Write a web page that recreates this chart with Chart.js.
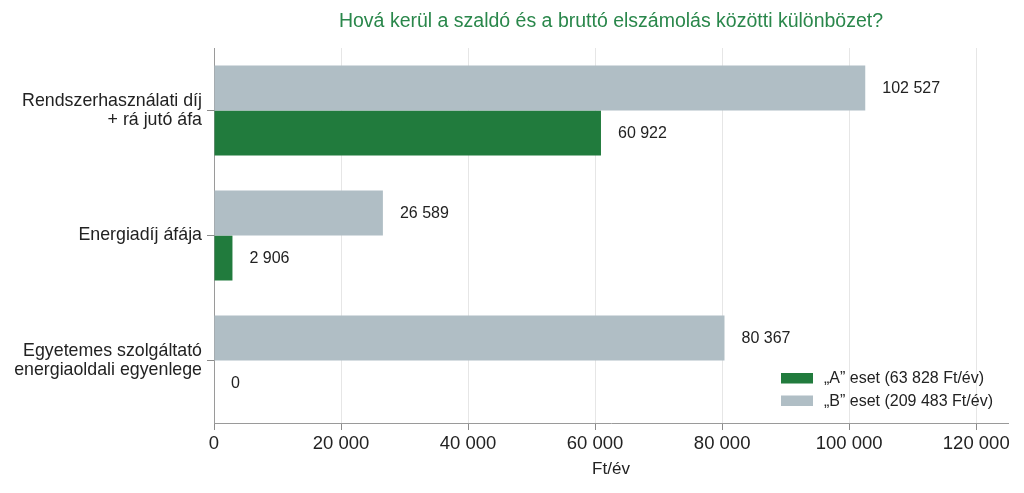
<!DOCTYPE html>
<html>
<head>
<meta charset="utf-8">
<script src="https://cdn.jsdelivr.net/npm/chart.js@4.4.1/dist/chart.umd.min.js"></script>
<style>
  html, body { margin: 0; padding: 0; background: #fff; }
  #wrap { width: 1024px; height: 493px; }
</style>
</head>
<body>
<div id="wrap"><canvas id="c" width="1024" height="493"></canvas></div>
<script>
const titleText = "Hová kerül a szaldó és a bruttó elszámolás közötti különbözet?";
const categories = [
  ["Rendszerhasználati díj", "+ rá jutó áfa"],
  "Energiadíj áfája",
  ["Egyetemes szolgáltató", "energiaoldali egyenlege"]
];
const seriesALabel = "„A” eset (63 828 Ft/év)";
const seriesBLabel = "„B” eset (209 483 Ft/év)";
const seriesA = [60922, 2906, 0];
const seriesB = [102527, 26589, 80367];
const xTicks = [0, 20000, 40000, 60000, 80000, 100000, 120000];
const xAxisTitle = "Ft/év";

const colorA = "#217b3d";
const colorB = "#b0bec5";
const textColor = "#222222";

function fmt(v) {
  return String(v).replace(/\B(?=(\d{3})+(?!\d))/g, " ");
}

Chart.defaults.font.family = "'Liberation Sans', Arial, sans-serif";
Chart.defaults.color = textColor;

const layoutFix = {
  id: 'layoutFix',
  afterLayout(chart) {
    const tb = chart.titleBlock;
    if (tb) {
      tb.left = chart.chartArea.left;
      tb.right = chart.chartArea.right;
    }
  }
};

const valueLabels = {
  id: 'valueLabels',
  afterDatasetsDraw(chart) {
    const ctx = chart.ctx;
    ctx.save();
    ctx.font = "16px 'Liberation Sans', Arial, sans-serif";
    ctx.fillStyle = textColor;
    ctx.textAlign = 'left';
    ctx.textBaseline = 'middle';
    chart.data.datasets.forEach((ds, di) => {
      const meta = chart.getDatasetMeta(di);
      meta.data.forEach((el, i) => {
        ctx.fillText(fmt(ds.data[i]), el.x + 17, el.y + 1);
      });
    });
    ctx.restore();
  }
};

const customLegend = {
  id: 'customLegend',
  afterDraw(chart) {
    const ctx = chart.ctx;
    const ca = chart.chartArea;
    const items = [
      { label: seriesALabel, color: colorA },
      { label: seriesBLabel, color: colorB }
    ];
    const x0 = ca.right - 227;
    const y0 = ca.bottom - 45;
    ctx.save();
    ctx.font = "16px 'Liberation Sans', Arial, sans-serif";
    ctx.textAlign = 'left';
    ctx.textBaseline = 'middle';
    items.forEach((it, i) => {
      const cy = y0 + i * 22.5;
      ctx.fillStyle = it.color;
      ctx.fillRect(x0, cy - 5, 32, 10.5);
      ctx.fillStyle = textColor;
      ctx.fillText(it.label, x0 + 43, cy + 1);
    });
    ctx.restore();
  }
};

new Chart(document.getElementById('c'), {
  type: 'bar',
  data: {
    labels: categories,
    datasets: [
      { label: seriesBLabel, data: seriesB, backgroundColor: colorB, categoryPercentage: 0.72, barPercentage: 1.0 },
      { label: seriesALabel, data: seriesA, backgroundColor: colorA, categoryPercentage: 0.72, barPercentage: 1.0 }
    ]
  },
  options: {
    indexAxis: 'y',
    responsive: false,
    animation: false,
    devicePixelRatio: 1,
    layout: { padding: { left: 0, right: 16, top: 0, bottom: 0 } },
    plugins: {
      legend: { display: false },
      tooltip: { enabled: false },
      title: {
        display: true,
        text: titleText,
        color: "#2a874b",
        font: { size: 19.5, weight: 'normal' },
        padding: { top: 10, bottom: 14.6 }
      }
    },
    scales: {
      x: {
        min: 0,
        max: 125000,
        afterBuildTicks(scale) {
          scale.ticks = xTicks.map(v => ({ value: v }));
        },
        afterFit(scale) { scale.height = 70; },
        ticks: {
          callback: (v) => fmt(v),
          font: { size: 18.5 },
          color: textColor,
          padding: 3,
          maxRotation: 0,
          autoSkip: false
        },
        grid: {
          color: '#e6e6e6',
          tickColor: '#8c8c8c',
          tickLength: 7,
          lineWidth: 1
        },
        border: { color: '#9a9a9a', width: 1 },
        title: {
          display: true,
          text: xAxisTitle,
          font: { size: 17 },
          color: textColor,
          padding: { top: 0, bottom: 13 }
        }
      },
      y: {
        afterFit(scale) { scale.width = 214; },
        ticks: {
          font: { size: 17.8, lineHeight: 1.05 },
          color: textColor,
          padding: 5
        },
        grid: {
          offset: false,
          drawOnChartArea: false,
          color: '#8c8c8c',
          tickLength: 7
        },
        border: { color: '#9a9a9a', width: 1 }
      }
    }
  },
  plugins: [layoutFix, valueLabels, customLegend]
});
</script>
</body>
</html>
